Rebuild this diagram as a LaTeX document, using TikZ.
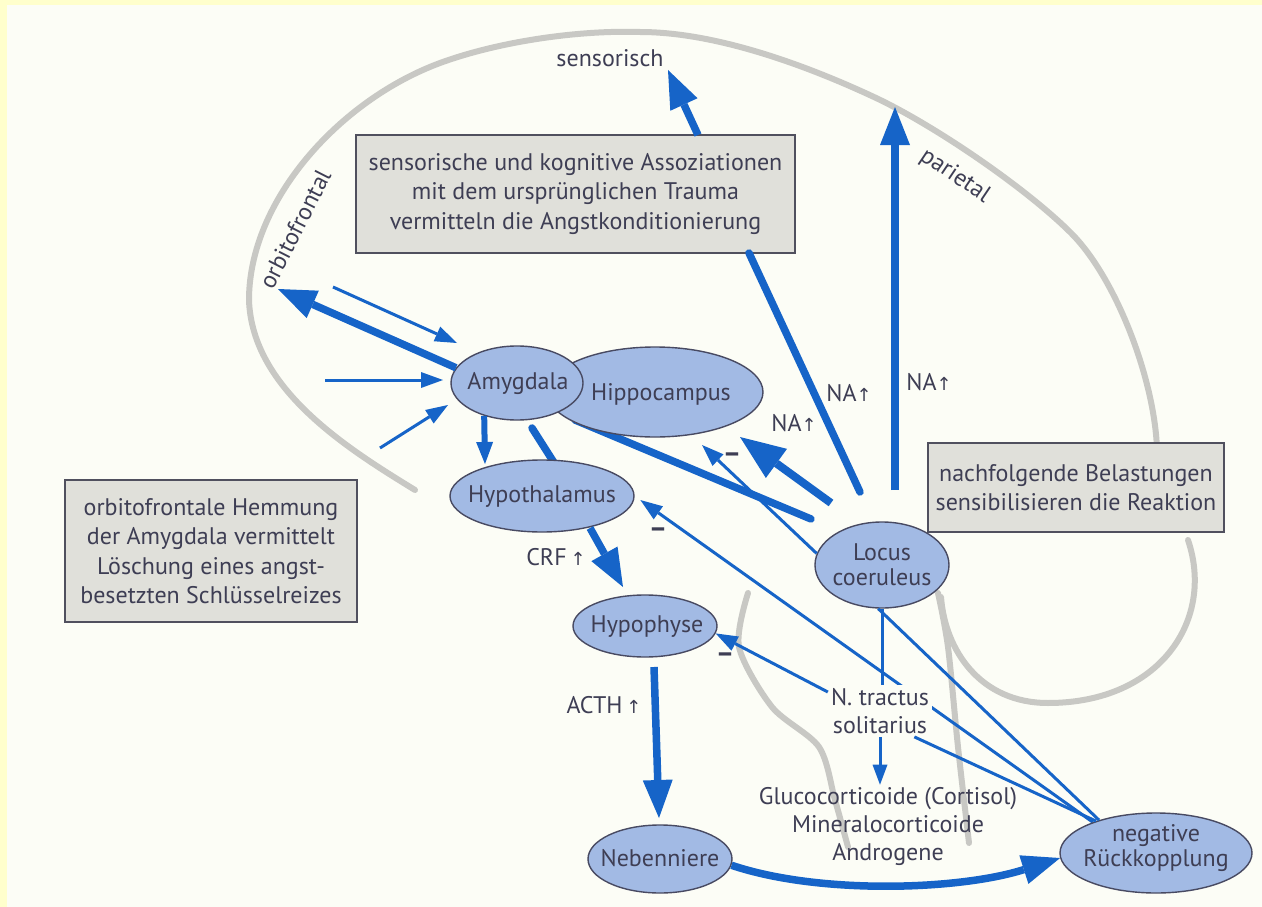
\documentclass[tikz,border=0pt]{standalone}
\usepackage{fontspec}
\setmainfont{PT Sans}
\newfontfamily\arrowfont{DejaVu Sans}
\usetikzlibrary{arrows.meta,shapes.geometric}
\pgfdeclarelayer{back}
\pgfsetlayers{back,main}
\definecolor{bgyellow}{RGB}{255,255,204}
\definecolor{paper}{RGB}{252,253,246}
\definecolor{txt}{RGB}{62,62,84}
\definecolor{ellfill}{RGB}{162,186,228}
\definecolor{ellline}{RGB}{72,74,98}
\definecolor{arr}{RGB}{22,100,200}
\definecolor{brainc}{RGB}{200,200,196}
\definecolor{boxfill}{RGB}{224,224,218}
\definecolor{boxline}{RGB}{80,80,94}
\newcommand{\uparr}{{\arrowfont\fontsize{18}{18}\selectfont ↑}}
\begin{document}
\begin{tikzpicture}[x=1pt,y=-1pt,
  every node/.style={text=txt, font=\fontsize{24}{29}\selectfont},
  ell/.style={ellipse, draw=ellline, line width=1.4pt, fill=ellfill, inner sep=0pt},
  lbl/.style={align=center, inner sep=0pt},
  lbltwo/.style={align=center, inner sep=0pt, font=\fontsize{24}{25}\selectfont},
  lblthree/.style={align=center, inner sep=2pt, font=\fontsize{24}{28}\selectfont},
  infobox/.style={draw=boxline, line width=1.8pt, fill=boxfill, align=center, inner sep=0pt, font=\fontsize{24}{29.5}\selectfont},
  thickarr/.style={draw=arr, line width=7.5pt, -{Triangle[length=38pt,width=30pt,line width=0pt]}},
  bigarr/.style={draw=arr, line width=8pt, -{Triangle[length=45pt,width=36pt,line width=0pt]}},
  thickln/.style={draw=arr, line width=7.5pt, line cap=round},
  medarr/.style={draw=arr, line width=6pt, -{Triangle[length=22pt,width=17pt,line width=0pt]}},
  thinarr/.style={draw=arr, line width=3pt, -{Triangle[length=22pt,width=16pt,line width=0pt]}},
  thinln/.style={draw=arr, line width=3pt},
  brain/.style={draw=brainc, line width=6pt, line cap=round},
  minus/.style={font=\fontsize{28}{28}\selectfont\bfseries, inner sep=0pt}
]
\useasboundingbox (0,0) rectangle (1262,907);

% ellipses
\node[ell, minimum width=216pt, minimum height=90pt] (hip) at (655,392) {};
\node[ell, minimum width=132pt, minimum height=74pt] (amy) at (517,383) {};
\node[ell, minimum width=184pt, minimum height=72pt] (hyt) at (542,496) {};
\node[ell, minimum width=144pt, minimum height=62pt] (hyp) at (645,626) {};
\node[ell, minimum width=144pt, minimum height=68pt] (neb) at (660,859) {};
\node[ell, minimum width=134pt, minimum height=86pt] (loc) at (882,565) {};
\node[ell, minimum width=192pt, minimum height=80pt] (neg) at (1156,853) {};

% ellipse texts
\node[lbl] (amyT) at (518,384) {Amygdala};
\node[lbl] (hipT) at (661,394) {Hippocampus};
\node[lbl] (hytT) at (542,497) {Hypothalamus};
\node[lbl] (hypT) at (647,627) {Hypophyse};
\node[lbl] (nebT) at (660,858) {Nebenniere};
\node[lbltwo] (locT) at (882,565) {Locus\\coeruleus};
\node[lbltwo] (negT) at (1156,848) {negative\\Rückkopplung};

% boxes
\node[infobox, minimum width=439pt, minimum height=118pt] (box1) at (575.5,194)
  {sensorische und kognitive Assoziationen\\mit dem ursprünglichen Trauma\\vermitteln die Angstkonditionierung};
\node[infobox, minimum width=296pt, minimum height=89pt] (box2) at (1076,487.5)
  {nachfolgende Belastungen\\sensibilisieren die Reaktion};
\node[infobox, minimum width=292pt, minimum height=142pt] (box3) at (211,551)
  {orbitofrontale Hemmung\\der Amygdala vermittelt\\Löschung eines angst-\\besetzten Schlüsselreizes};

% free texts
\node[lbl] (sens) at (610,58) {sensorisch};
\node[lbl, rotate=63] (orbi) at (295,229) {orbitofrontal};
\node[lbl, rotate=-34] (pari) at (955,176) {parietal};
\node[lbl] (naA) at (849,393) {NA\uparr};
\node[lbl] (naB) at (929,382) {NA\uparr};
\node[lbl] (naC) at (794,423) {NA\uparr};
\node[lbl] (crf) at (556,557) {CRF\,\uparr};
\node[lbl] (acth) at (604,705) {ACTH\,\uparr};
\node[lblthree, fill=paper, inner sep=3pt] (nts) at (880,711) {N. tractus\\solitarius};
\node[lblthree] (glu) at (888,826) {Glucocorticoide (Cortisol)\\Mineralocorticoide\\Androgene};
\node[minus] (mA) at (732,458) {–};
\node[minus] (mB) at (658,533) {–};
\node[minus] (mC) at (725,658) {–};

% free coordinates
\coordinate (sensTip) at (668,70);
\coordinate (sensBase) at (698,135);
\coordinate (parBase) at (895,490);
\coordinate (parTip) at (895,107);
\coordinate (boxLow) at (749,253);
\coordinate (locTop) at (860,492);
\coordinate (hipTip) at (740,437);
\coordinate (hipTail) at (831,503);
\coordinate (amyLineEnd) at (575,420);
\coordinate (amyLineStart) at (811,519);
\coordinate (hipThinTip) at (702,445);
\coordinate (orbTip) at (278,289);
\coordinate (inAa) at (333,287);
\coordinate (inAb) at (457,343);
\coordinate (inBa) at (325,380);
\coordinate (inBb) at (443,380);
\coordinate (inCa) at (380,448);
\coordinate (inCb) at (448,405);
\coordinate (ahA) at (532,428);
\coordinate (ahB) at (560,472);
\coordinate (amyHytTip) at (485,464);
\coordinate (crfA) at (590,528);
\coordinate (crfTip) at (623,587);
\coordinate (acthA) at (654,667);
\coordinate (acthTip) at (659,818);

\begin{pgfonlayer}{back}
  \fill[bgyellow] (0,0) rectangle (1262,907);
  \fill[paper] (7,5) rectangle (1262,907);
  % brain outline
  \draw[brain] (415,490) .. controls (350,450) and (252,390) .. (249,300)
    .. controls (249,200) and (340,100) .. (440,63)
    .. controls (500,41) and (580,30) .. (640,32)
    .. controls (720,32) and (814,69) .. (874,97)
    .. controls (934,125) and (1026,188) .. (1071,233)
    .. controls (1116,278) and (1155,380) .. (1157,450);
  % cerebellum loop
  \draw[brain] (1188,540) .. controls (1215,620) and (1160,703) .. (1048,703)
    .. controls (980,703) and (945,650) .. (941,597);
  % brainstem
  \draw[brain] plot[smooth, tension=0.5] coordinates {
    (748,593) (739,647) (772,707) (819,747) (835,800) (848,847)};
  \draw[brain] plot[smooth, tension=0.5] coordinates {
    (938,593) (948,647) (958,747) (969,843)};
  % lines hidden behind ellipses / label
  \draw[thickln] (amyLineStart) -- (amyLineEnd);
  \draw[thickln] (ahA) -- (ahB);
  \draw[thinarr, shorten >=7pt] (neg.154) -- (hyt.east);
\end{pgfonlayer}

% arrows
\draw[thickarr] (sensBase) -- (sensTip);
\draw[thickarr] (parBase) -- (parTip);
\draw[thickln] (boxLow) -- (locTop);
\draw[bigarr] (hipTail) -- (hipTip);
\draw[thinarr] (loc.170) -- (hipThinTip);
\draw[thickarr] (amy.166) -- (orbTip);
\draw[thinarr] (inAa) -- (inAb);
\draw[thinarr] (inBa) -- (inBb);
\draw[thinarr] (inCa) -- (inCb);
\draw[medarr] (amy.225) -- (amyHytTip);
\draw[thickarr] (crfA) -- (crfTip);
\draw[thickarr] (acthA) -- (acthTip);
\draw[thickarr] (neb.-5) .. controls (820,895) and (960,890) .. (neg.183);
\draw[thinln] (loc.south) -- (loc.south |- nts.north);
\draw[thinarr, -{Triangle[length=20pt,width=15pt,line width=0pt]}] (nts.south) -- (nts.south |- glu.north);
\draw[thinarr] (nts.160) -- (hyp.-6);
\draw[thinln] (loc.265) -- (neg.150);
\draw[thinln] (nts.-37) -- (neg.152);
\end{tikzpicture}
\end{document}
